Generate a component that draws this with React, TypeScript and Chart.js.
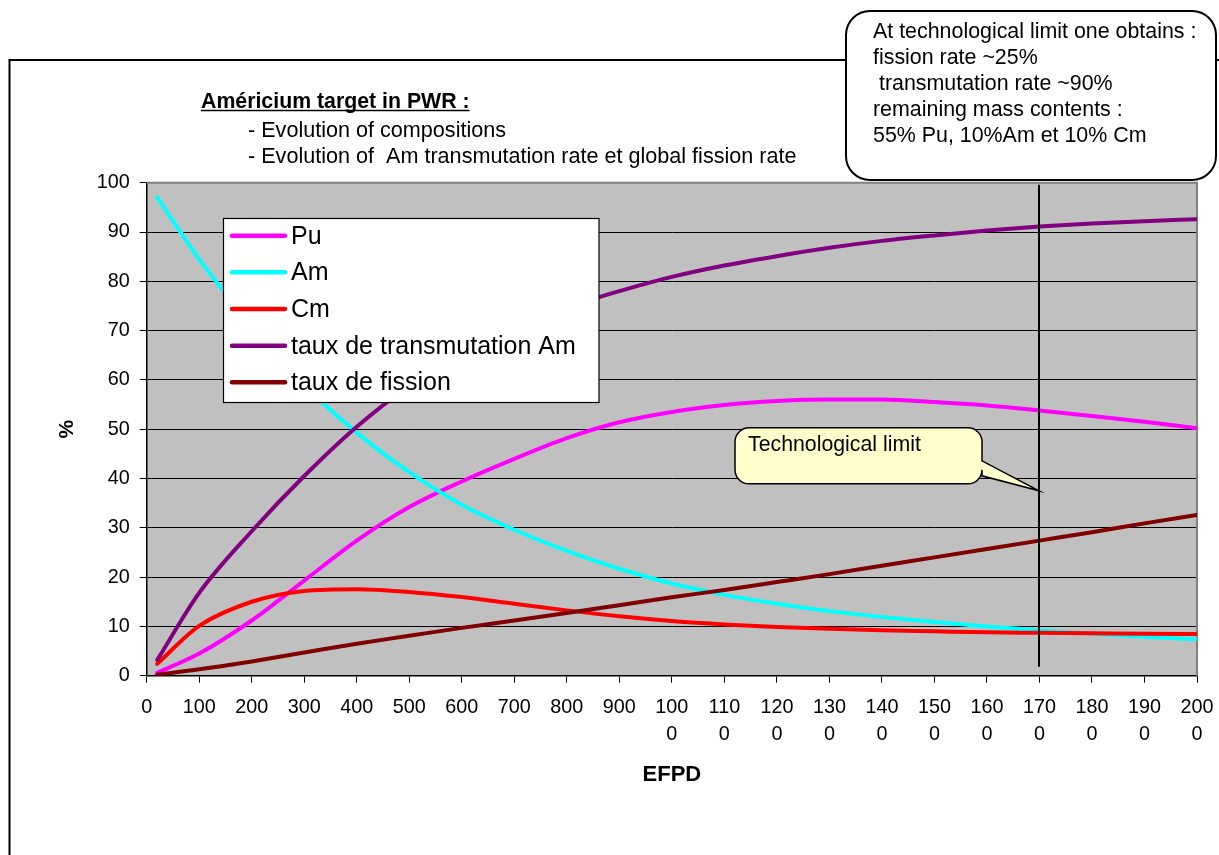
import React, { useEffect, useRef } from "react";
import { Chart, registerables } from "chart.js";

Chart.register(...registerables);

// ---------------- data ----------------
const EFPD = [20, 100, 200, 300, 400, 500, 600, 700, 800, 900, 1000, 1100, 1200, 1300, 1400, 1500, 1600, 1700, 1800, 1900, 2000];
const PU = [0.6, 4.5, 11.2, 19.3, 27.4, 34.2, 39.4, 44.0, 48.2, 51.4, 53.5, 54.9, 55.7, 56.0, 56.0, 55.5, 54.8, 53.8, 52.7, 51.5, 50.2];
const AM = [97.0, 84.5, 71.0, 59.0, 49.3, 41.3, 34.7, 29.6, 25.3, 21.7, 18.7, 16.4, 14.6, 13.1, 11.9, 10.9, 10.0, 9.2, 8.5, 7.9, 7.4];
const CM = [2.4, 10.1, 15.0, 17.2, 17.55, 17.0, 15.95, 14.6, 13.25, 12.05, 11.1, 10.4, 9.9, 9.5, 9.2, 9.0, 8.8, 8.7, 8.6, 8.5, 8.45];
const TRANSMUTATION = [3.2, 16.8, 29.3, 40.5, 50.5, 58.8, 65.4, 70.6, 74.7, 78.0, 80.9, 83.2, 85.1, 86.8, 88.2, 89.3, 90.3, 91.1, 91.7, 92.2, 92.6];
const FISSION = [0.2, 1.3, 2.9, 4.7, 6.5, 8.1, 9.7, 11.2, 12.7, 14.3, 15.9, 17.4, 19.0, 20.6, 22.3, 24.0, 25.7, 27.4, 29.1, 30.9, 32.6];

const SERIES_LABELS = ["Pu", "Am", "Cm", "taux de transmutation Am", "taux de fission"];
const SERIES_VALUES = [PU, AM, CM, TRANSMUTATION, FISSION];
const SERIES_COLORS = ["#FF00FF", "#00FFFF", "#FF0000", "#800080", "#800000"];

const X_TICK_LABELS: (string | string[])[] = [
  "0", "100", "200", "300", "400", "500", "600", "700", "800", "900",
  ["100", "0"], ["110", "0"], ["120", "0"], ["130", "0"], ["140", "0"],
  ["150", "0"], ["160", "0"], ["170", "0"], ["180", "0"], ["190", "0"], ["200", "0"],
];

const TECH_LIMIT_EFPD = 1700;
const TITLE = "Américium target in PWR :";
const SUBTITLE_LINES = ["- Evolution of compositions", "- Evolution of  Am transmutation rate et global fission rate"];
const NOTE_LINES = [
  "At technological limit one obtains :",
  "fission rate ~25%",
  " transmutation rate ~90%",
  "remaining mass contents :",
  "55% Pu, 10%Am et 10% Cm",
];
const CALLOUT_TEXT = "Technological limit";
const X_TITLE = "EFPD";
const Y_TITLE = "%";

// ---------------- styling ----------------
const W = 1219;
const H = 855;
const FONT = "Arial, 'Liberation Sans', sans-serif";
const PLOT_BG = "#C0C0C0";

function roundRectPath(ctx: CanvasRenderingContext2D, l: number, t: number, r: number, b: number, rad: number) {
  ctx.beginPath();
  ctx.moveTo(l + rad, t);
  ctx.lineTo(r - rad, t);
  ctx.arcTo(r, t, r, t + rad, rad);
  ctx.lineTo(r, b - rad);
  ctx.arcTo(r, b, r - rad, b, rad);
  ctx.lineTo(l + rad, b);
  ctx.arcTo(l, b, l, b - rad, rad);
  ctx.lineTo(l, t + rad);
  ctx.arcTo(l, t, l + rad, t, rad);
  ctx.closePath();
}

const decorPlugin = {
  id: "decor",
  beforeDraw(chart: any) {
    const ctx = chart.ctx as CanvasRenderingContext2D;
    const ca = chart.chartArea;
    ctx.save();
    ctx.fillStyle = "#FFFFFF";
    ctx.fillRect(0, 0, chart.width, chart.height);
    // outer chart border
    ctx.strokeStyle = "#000";
    ctx.lineWidth = 2;
    ctx.strokeRect(9.5, 60, 1400, 1000);
    // plot area
    ctx.fillStyle = PLOT_BG;
    ctx.fillRect(ca.left, ca.top, ca.right - ca.left, ca.bottom - ca.top);
    ctx.restore();
  },
  beforeDatasetsDraw(chart: any) {
    const ctx = chart.ctx as CanvasRenderingContext2D;
    const ca = chart.chartArea;
    ctx.save();
    ctx.strokeStyle = "#808080";
    ctx.lineWidth = 2;
    ctx.beginPath();
    ctx.moveTo(ca.left, ca.top);
    ctx.lineTo(ca.right, ca.top);
    ctx.lineTo(ca.right, ca.bottom);
    ctx.stroke();
    ctx.restore();
  },
  afterDatasetsDraw(chart: any) {
    const ctx = chart.ctx as CanvasRenderingContext2D;
    const ca = chart.chartArea;
    const xs = chart.scales.x;
    const ys = chart.scales.y;
    const lx = Math.round(xs.getPixelForValue(TECH_LIMIT_EFPD));
    ctx.save();
    // vertical technological limit line
    ctx.strokeStyle = "#000";
    ctx.lineWidth = 2;
    ctx.beginPath();
    ctx.moveTo(lx, ca.top + 2);
    ctx.lineTo(lx, ca.bottom - 9);
    ctx.stroke();

    // callout "Technological limit"
    const tipX = lx;
    const tipY = ys.getPixelForValue(37.5);
    const l = tipX - 304;
    const r = tipX - 57;
    const t = tipY - 63;
    const b = tipY - 7;
    const rad = 14;
    ctx.beginPath();
    ctx.moveTo(l + rad, t);
    ctx.lineTo(r - rad, t);
    ctx.arcTo(r, t, r, t + rad, rad);
    ctx.lineTo(r, t + 33);
    ctx.lineTo(tipX, tipY);
    ctx.lineTo(r, t + 48);
    ctx.lineTo(r, b - rad);
    ctx.arcTo(r, b, r - rad, b, rad);
    ctx.lineTo(l + rad, b);
    ctx.arcTo(l, b, l, b - rad, rad);
    ctx.lineTo(l, t + rad);
    ctx.arcTo(l, t, l + rad, t, rad);
    ctx.closePath();
    ctx.fillStyle = "#FFFFCC";
    ctx.fill();
    ctx.strokeStyle = "#000";
    ctx.lineWidth = 1.5;
    ctx.stroke();
    ctx.fillStyle = "#000";
    ctx.font = `21.3px ${FONT}`;
    ctx.textAlign = "left";
    ctx.textBaseline = "alphabetic";
    ctx.fillText(CALLOUT_TEXT, l + 13, t + 23);
    ctx.restore();
  },
  afterDraw(chart: any) {
    const ctx = chart.ctx as CanvasRenderingContext2D;
    ctx.save();
    ctx.fillStyle = "#000";
    ctx.textAlign = "left";
    ctx.textBaseline = "alphabetic";

    // title
    ctx.font = `bold 21.3px ${FONT}`;
    ctx.fillText(TITLE, 201, 107.5);
    const tw = ctx.measureText(TITLE).width;
    ctx.strokeStyle = "#000";
    ctx.lineWidth = 1.5;
    ctx.beginPath();
    ctx.moveTo(201, 110.5);
    ctx.lineTo(201 + tw, 110.5);
    ctx.stroke();

    ctx.font = `21.6px ${FONT}`;
    SUBTITLE_LINES.forEach((s, i) => ctx.fillText(s, 248, 136.5 + i * 26.5));

    // legend
    const lgL = 223.5, lgT = 218.5, lgR = 599, lgB = 402.5;
    ctx.fillStyle = "#FFFFFF";
    ctx.fillRect(lgL, lgT, lgR - lgL, lgB - lgT);
    ctx.strokeStyle = "#000";
    ctx.lineWidth = 1.2;
    ctx.strokeRect(lgL, lgT, lgR - lgL, lgB - lgT);
    ctx.font = `25px ${FONT}`;
    ctx.textBaseline = "middle";
    chart.data.datasets.forEach((ds: any, i: number) => {
      const cy = 235.7 + i * 36.65;
      ctx.strokeStyle = ds.borderColor;
      ctx.lineWidth = 4.5;
      ctx.lineCap = "round";
      ctx.beginPath();
      ctx.moveTo(232, cy);
      ctx.lineTo(285, cy);
      ctx.stroke();
      ctx.fillStyle = "#000";
      ctx.fillText(ds.label, 291, cy + 1);
    });

    // top-right note box
    ctx.lineCap = "butt";
    roundRectPath(ctx, 846, 11, 1216, 180, 24);
    ctx.fillStyle = "#FFFFFF";
    ctx.fill();
    ctx.strokeStyle = "#000";
    ctx.lineWidth = 2;
    ctx.stroke();
    ctx.fillStyle = "#000";
    ctx.font = `21.4px ${FONT}`;
    ctx.textBaseline = "alphabetic";
    NOTE_LINES.forEach((s, i) => ctx.fillText(s, 873, 38.3 + i * 26));
    ctx.restore();
  },
};

export default function App() {
  const ref = useRef<HTMLCanvasElement | null>(null);

  useEffect(() => {
    document.body.style.margin = "0";
    const canvas = ref.current;
    if (!canvas) return;
    const datasets = SERIES_LABELS.map((label, i) => ({
      label,
      data: EFPD.map((x, j) => ({ x, y: SERIES_VALUES[i][j] })),
      borderColor: SERIES_COLORS[i],
      backgroundColor: SERIES_COLORS[i],
      borderWidth: 4,
      pointRadius: 0,
      cubicInterpolationMode: "monotone" as const,
      fill: false,
      borderCapStyle: "round" as const,
      borderJoinStyle: "round" as const,
      order: SERIES_LABELS.length - 1 - i,
    }));

    const chart = new Chart(canvas, {
      type: "line",
      data: { datasets },
      options: {
        responsive: false,
        animation: false,
        devicePixelRatio: 1,
        layout: { padding: { left: 0, right: 22, top: 182.7, bottom: 0 } },
        plugins: {
          legend: { display: false },
          tooltip: { enabled: false },
          title: { display: false },
        },
        scales: {
          x: {
            type: "linear",
            min: 0,
            max: 2000,
            ticks: {
              stepSize: 100,
              autoSkip: false,
              maxRotation: 0,
              minRotation: 0,
              color: "#000",
              padding: 11,
              font: { family: FONT, size: 19.8, lineHeight: 1.36 },
              callback: (v: any, i: number) => X_TICK_LABELS[i] ?? String(v),
            },
            grid: { drawOnChartArea: false, drawTicks: true, tickLength: 7, color: "#000", lineWidth: 1 },
            border: { display: true, color: "#000", width: 1.5 },
            title: {
              display: true,
              text: X_TITLE,
              color: "#000",
              font: { family: FONT, size: 22, weight: "bold" },
              padding: { top: 0, bottom: 67 },
            },
            afterFit: (s: any) => {
              s.height = H - 675.7;
              s.paddingLeft = 0;
              s.paddingRight = 0;
            },
          },
          y: {
            min: 0,
            max: 100,
            ticks: {
              stepSize: 10,
              color: "#000",
              padding: 10,
              font: { family: FONT, size: 19.8 },
            },
            grid: { color: "#000", lineWidth: 1, tickLength: 7 },
            border: { display: true, color: "#000", width: 1.5 },
            title: {
              display: true,
              text: Y_TITLE,
              color: "#000",
              font: { family: FONT, size: 21, weight: "bold" },
              padding: { top: 55, bottom: 0 },
            },
            afterFit: (s: any) => {
              s.width = 146.7;
              s.paddingTop = 0;
              s.paddingBottom = 0;
            },
          },
        },
      },
      plugins: [decorPlugin],
    } as any);

    return () => chart.destroy();
  }, []);

  return (
    <div style={{ width: W, height: H, position: "relative", background: "#fff" }}>
      <canvas ref={ref} width={W} height={H} style={{ display: "block", width: W, height: H }} />
    </div>
  );
}
